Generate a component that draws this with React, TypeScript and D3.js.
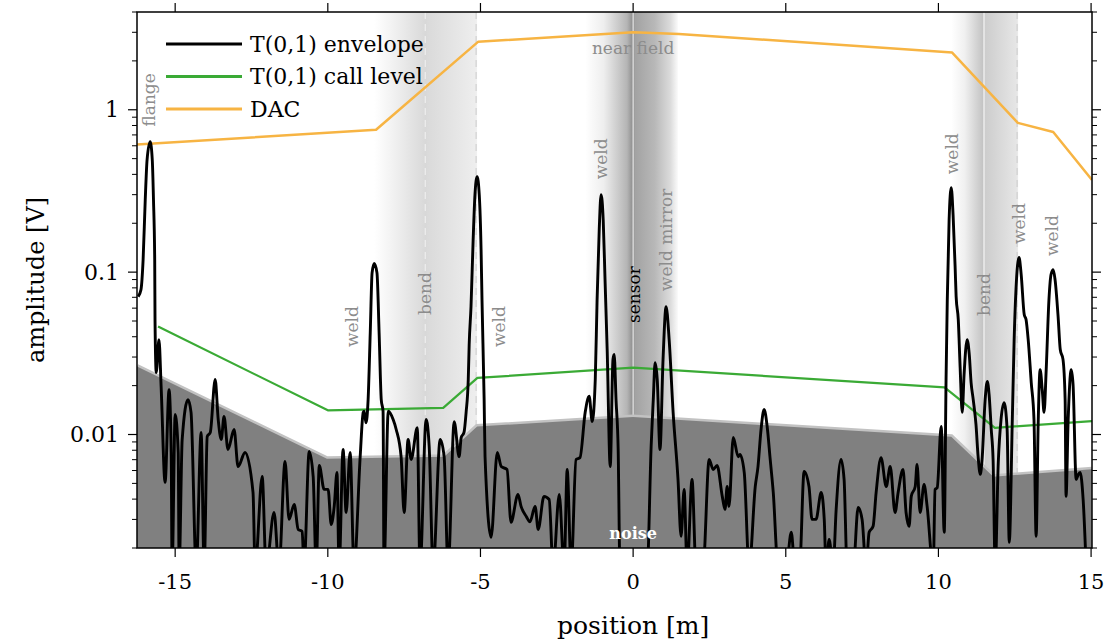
import React from 'react';
import * as d3 from 'd3';

const envPos = [
  -16.21, -16.12, -16.05, -15.98, -15.92, -15.82, -15.75, -15.71, -15.67, -15.66, -15.62, -15.53, -15.46, -15.33, -15.2, -15.13, -15.1, -15.0, -14.9, -14.87, -14.77, -14.58, -14.48, -14.31, -14.15, -14.05, -13.95, -13.85, -13.69, -13.59, -13.49, -13.4, -13.27, -13.07, -12.94, -12.71, -12.45, -12.38, -12.15, -12.02,
  -11.76, -11.6, -11.4, -11.27, -11.1, -10.97, -10.84, -10.78, -10.61, -10.48, -10.38, -10.28, -10.12, -9.99, -9.89, -9.79, -9.7, -9.63, -9.5, -9.4, -9.27, -9.14, -8.94, -8.84, -8.81, -8.75, -8.68, -8.61, -8.55, -8.48, -8.39, -8.32, -8.25, -8.19, -8.16,
  -8.02, -7.86, -7.76, -7.6, -7.5, -7.37, -7.27, -7.07, -6.98, -6.78, -6.68, -6.55, -6.32, -6.19, -6.06, -5.86, -5.7, -5.63, -5.54, -5.47, -5.4, -5.37, -5.31, -5.24, -5.18, -5.11, -5.04, -4.98, -4.95, -4.88, -4.85, -4.65, -4.45, -4.32, -4.13, -4.0, -3.77, -3.67, -3.5, -3.38,
  -3.21, -3.11, -2.92, -2.75, -2.62, -2.42, -2.26, -2.16, -2.03, -1.87, -1.74, -1.57, -1.44, -1.34, -1.24, -1.18, -1.11, -1.05, -0.98, -0.92, -0.85, -0.75, -0.66, -0.62, -0.56, -0.49, -0.43,
  0.46, 0.59, 0.66, 0.72, 0.79, 0.88, 0.98, 1.08, 1.18, 1.31, 1.47, 1.57, 1.67, 1.77, 1.93, 2.06, 2.29, 2.49, 2.62, 2.75, 2.92, 3.01, 3.08, 3.14, 3.28, 3.44, 3.5, 3.64, 3.8, 4.0, 4.09, 4.19, 4.29, 4.39, 4.49, 4.59, 4.75,
  5.01, 5.18, 5.3, 5.45, 5.6, 5.76, 5.86, 5.99, 6.16, 6.26, 6.32, 6.42, 6.55, 6.65, 6.81, 6.91, 7.01, 7.21, 7.37, 7.5, 7.63, 7.73, 7.86, 7.96, 8.12, 8.29, 8.42, 8.58, 8.68, 8.84, 8.94, 9.04, 9.11, 9.24, 9.3, 9.4, 9.53, 9.63, 9.83, 9.89, 9.96, 10.09, 10.19,
  10.25, 10.29, 10.35, 10.42, 10.48, 10.55, 10.58, 10.65, 10.71, 10.78, 10.84, 10.94, 11.01, 11.07, 11.14, 11.23, 11.3, 11.37, 11.43, 11.53, 11.6, 11.66, 11.73, 11.79, 11.86, 11.96, 12.05, 12.15, 12.25, 12.32, 12.42, 12.48, 12.54, 12.64, 12.71, 12.81, 12.87, 12.94, 13.04, 13.13, 13.2, 13.27, 13.33, 13.4, 13.46, 13.53, 13.62, 13.69, 13.76, 13.82, 13.92, 13.99, 14.08, 14.15, 14.18, 14.25, 14.35, 14.41, 14.51, 14.58, 14.64, 14.74, 14.84,
];
const envAmp = [
  0.0707, 0.078, 0.119, 0.279, 0.492, 0.636, 0.492, 0.279, 0.119, 0.051, 0.0241, 0.0384, 0.0198, 0.00507, 0.0189, 0.00775, 0.0015, 0.01328, 0.00775, 0.0015, 0.00932, 0.0164, 0.0137, 0.0015, 0.01029, 0.0015, 0.00973, 0.01029, 0.0218, 0.01236, 0.00932, 0.0129, 0.00809, 0.01074, 0.00635, 0.00775, 0.0044, 0.0015, 0.00552, 0.0015,
  0.00331, 0.0015, 0.00682, 0.003, 0.00371, 0.0026, 0.00253, 0.0015, 0.00786, 0.00552, 0.0015, 0.00644, 0.00459, 0.00459, 0.00279, 0.00361, 0.00583, 0.0015, 0.00809, 0.00331, 0.00775, 0.0015, 0.0073, 0.0137, 0.0139, 0.0118, 0.0164, 0.0425, 0.099, 0.113, 0.099, 0.0425, 0.0164, 0.0139, 0.0015,
  0.0139, 0.01236, 0.01074, 0.0073, 0.00331, 0.00932, 0.00702, 0.011, 0.0015, 0.01236, 0.00844, 0.0015, 0.00932, 0.0073, 0.0015, 0.012, 0.0073, 0.00959, 0.01029, 0.0137, 0.0218, 0.0358, 0.0613, 0.158, 0.3, 0.387, 0.3, 0.1375, 0.0677, 0.0164, 0.0073, 0.00233, 0.00775, 0.00635, 0.00609, 0.00288, 0.00428, 0.00361, 0.00313, 0.0029,
  0.00361, 0.0026, 0.00416, 0.00398, 0.0015, 0.00428, 0.0015, 0.00609, 0.0015, 0.00702, 0.0072, 0.0137, 0.0172, 0.012, 0.0218, 0.0677, 0.183, 0.3, 0.21, 0.0899, 0.0334, 0.00635, 0.029, 0.0311, 0.0164, 0.00809, 0.0015,
  0.0015, 0.00844, 0.0164, 0.0277, 0.0218, 0.00809, 0.029, 0.0613, 0.0384, 0.0137, 0.00529, 0.00236, 0.00459, 0.0015, 0.00529, 0.0015, 0.0015, 0.00702, 0.00609, 0.00644, 0.00416, 0.00345, 0.00478, 0.00361, 0.00959, 0.0073, 0.00753, 0.00583, 0.0015, 0.00478, 0.00635, 0.01074, 0.01425, 0.01121, 0.00702, 0.0044, 0.0015,
  0.0015, 0.0025, 0.0015, 0.0015, 0.00592, 0.00478, 0.003, 0.003, 0.0044, 0.003, 0.0015, 0.00226, 0.0015, 0.00345, 0.00702, 0.00529, 0.0015, 0.0015, 0.00356, 0.003, 0.0015, 0.0025, 0.00272, 0.0044, 0.0072, 0.00478, 0.00635, 0.00331, 0.0044, 0.00609, 0.00331, 0.00272, 0.00416, 0.00478, 0.00654, 0.00331, 0.00492, 0.00361, 0.0015, 0.00459, 0.0047, 0.01121, 0.0025,
  0.0218, 0.0677, 0.21, 0.331, 0.225, 0.1035, 0.0707, 0.051, 0.0262, 0.0137, 0.0234, 0.0384, 0.0311, 0.0209, 0.0164, 0.01153, 0.0073, 0.00568, 0.00702, 0.0164, 0.0212, 0.0176, 0.01074, 0.00702, 0.0015, 0.00672, 0.01236, 0.0157, 0.01074, 0.00217, 0.01236, 0.0384, 0.078, 0.123, 0.097, 0.0548, 0.051, 0.0384, 0.0209, 0.01236, 0.00236, 0.01236, 0.0251, 0.0189, 0.0137, 0.0251, 0.0677, 0.097, 0.1035, 0.0899, 0.0532, 0.0334, 0.029, 0.0164, 0.00416, 0.01236, 0.0251, 0.0203, 0.00529, 0.00568, 0.00583, 0.00398, 0.0015,
];

const callPos = [-15.56, -10.0, -6.22, -5.1, 0, 10.2, 11.85, 15.03];
const callAmp = [0.0462, 0.0141, 0.0146, 0.0223, 0.0258, 0.0195, 0.011, 0.0121];

const dacPos = [-16.25, -8.42, -5.08, 0, 1.5, 10.45, 12.6, 13.76, 15.03];
const dacAmp = [0.61, 0.753, 2.62, 3.0, 2.93, 2.25, 0.83, 0.73, 0.37];

const noisePos = [-16.25, -10.03, -6.19, -5.11, 0, 10.42, 11.8, 15.03];
const noiseAmp = [0.0262, 0.0071, 0.0073, 0.0112, 0.0128, 0.0097, 0.0055, 0.0061];

// shaded zones: start, darkest point, end (m)
const zoneStart = [-8.48, -1.57, 10.42];
const zoneMid = [-6.81, 0, 11.46];
const zoneEnd = [-5.11, 1.47, 12.61];

const xTicks = [-15, -10, -5, 0, 5, 10, 15];
const yMajor = [0.01, 0.1, 1];
const yLabels = ['0.01', '0.1', '1'];

const annText = ['flange', 'weld', 'bend', 'weld', 'weld', 'sensor', 'weld mirror', 'weld', 'bend', 'weld', 'weld'];
const annPos = [-15.85, -9.2, -6.81, -4.39, -1.05, 0.03, 1.08, 10.45, 11.5, 12.64, 13.72];
const annAmp = [1.15, 0.0462, 0.0738, 0.0462, 0.499, 0.0727, 0.158, 0.536, 0.0727, 0.199, 0.168];

const legendNames = ['T(0,1) envelope', 'T(0,1) call level', 'DAC'];
const legendColors = ['#000000', '#3aaa35', '#f7b443'];

const FONT = '"DejaVu Serif", serif';

export default function App() {
  const L = 137, R = 1092, T = 12, B = 548;
  const x = d3.scaleLinear().domain([-16.25, 15.03]).range([L, R]);
  const y = d3.scaleLog().domain([0.002, 4]).range([B, T]);

  const line = d3.line<[number, number]>().x(d => x(d[0])).y(d => y(d[1]));
  const smooth = d3.line<[number, number]>().x(d => x(d[0])).y(d => y(d[1])).curve(d3.curveMonotoneX);
  const area = d3.area<[number, number]>().x(d => x(d[0])).y0(B).y1(d => y(d[1]));

  const env = envPos.map((p, i) => [p, envAmp[i]] as [number, number]);
  const call = callPos.map((p, i) => [p, callAmp[i]] as [number, number]);
  const dac = dacPos.map((p, i) => [p, dacAmp[i]] as [number, number]);
  const noise = noisePos.map((p, i) => [p, noiseAmp[i]] as [number, number]);

  const minor: number[] = [];
  for (const dec of [0.001, 0.01, 0.1, 1]) {
    for (let k = 2; k <= 9; k++) {
      const v = dec * k;
      if (v >= 0.002 && v <= 4) minor.push(v);
    }
  }

  const zoneStops = [
    [['0', '#ffffff'], ['0.15', '#f4f4f4'], ['0.5', '#d8d8d8'], ['0.52', '#dadada'], ['0.99', '#eeeeee'], ['1', '#f2f2f2']],
    [['0', '#ffffff'], ['0.2', '#eeeeee'], ['0.45', '#b5b5b5'], ['0.515', '#8c8c8c'], ['0.535', '#a2a2a2'], ['0.75', '#b8b8b8'], ['0.92', '#dcdcdc'], ['1', '#fbfbfb']],
    [['0', '#ffffff'], ['0.2', '#f0f0f0'], ['0.47', '#c4c4c4'], ['0.49', '#cccccc'], ['0.98', '#e6e6e6'], ['1', '#ececec']],
  ];

  return (
    <svg width={1109} height={643} style={{ position: 'absolute', left: 0, top: 0, background: '#fff' }} fontFamily={FONT}>
      <defs>
        <clipPath id="plotclip"><rect x={L} y={T} width={R - L} height={B - T} /></clipPath>
        {zoneStops.map((stops, i) => (
          <linearGradient key={i} id={`zone${i}`} x1="0" x2="1" y1="0" y2="0">
            {stops.map(([o, c], j) => <stop key={j} offset={o} stopColor={c} />)}
          </linearGradient>
        ))}
      </defs>
      <rect x={0} y={0} width={1109} height={643} fill="#fff" />
      <g clipPath="url(#plotclip)">
        {zoneStart.map((s, i) => (
          <rect key={i} x={x(s)} y={T} width={x(zoneEnd[i]) - x(s)} height={B - T} fill={`url(#zone${i})`} />
        ))}
        <line x1={x(zoneMid[0])} x2={x(zoneMid[0])} y1={T} y2={B} stroke="#f2f2f2" strokeWidth={1} strokeDasharray="7 5" />
        <line x1={x(zoneEnd[0]) - 1} x2={x(zoneEnd[0]) - 1} y1={T} y2={B} stroke="#c4c4c4" strokeWidth={0.8} strokeDasharray="7 5" />
        <line x1={x(zoneMid[1])} x2={x(zoneMid[1])} y1={T} y2={B} stroke="#e8e8e8" strokeWidth={1.2} />
        <line x1={x(zoneMid[2]) + 1} x2={x(zoneMid[2]) + 1} y1={T} y2={B} stroke="#f4f4f4" strokeWidth={1.2} />
        <line x1={x(zoneEnd[2]) - 1} x2={x(zoneEnd[2]) - 1} y1={T} y2={B} stroke="#c4c4c4" strokeWidth={0.8} strokeDasharray="7 5" />

        <path d={line(noise) || ''} fill="none" stroke="#c2c2c2" strokeWidth={5} />
        <path d={area(noise) || ''} fill="#808080" />

        {annText.map((t, i) => (
          <text key={i} transform={`translate(${x(annPos[i])},${y(annAmp[i])}) rotate(-90)`} textAnchor="middle" dominantBaseline="central"
            fontSize={17} fill={t === 'sensor' ? '#000' : '#8c8c8c'}>{t}</text>
        ))}
        <text x={x(0)} y={y(2.41)} textAnchor="middle" dominantBaseline="central" fontSize={17} fill="#8c8c8c">near field</text>

        <path d={line(dac) || ''} fill="none" stroke={legendColors[2]} strokeWidth={2.5} strokeLinejoin="round" />
        <path d={line(call) || ''} fill="none" stroke={legendColors[1]} strokeWidth={2.2} strokeLinejoin="round" />
        <path d={smooth(env) || ''} fill="none" stroke={legendColors[0]} strokeWidth={2.9} strokeLinejoin="round" />

        <text x={x(0)} y={y(0.00246)} textAnchor="middle" dominantBaseline="central" fontSize={16} fontWeight="bold" fill="#fff">noise</text>
      </g>

      {/* frame */}
      <rect x={L} y={T} width={R - L} height={B - T} fill="none" stroke="#000" strokeWidth={1.5} />
      {xTicks.map(t => (
        <g key={t}>
          <line x1={x(t)} x2={x(t)} y1={B} y2={B + 9} stroke="#000" strokeWidth={1.2} />
          <line x1={x(t)} x2={x(t)} y1={T} y2={T - 9} stroke="#000" strokeWidth={1.2} />
          <text x={x(t)} y={589} textAnchor="middle" fontSize={21} fill="#000">{t}</text>
        </g>
      ))}
      {yMajor.map((t, i) => (
        <g key={t}>
          <line x1={L} x2={L - 9} y1={y(t)} y2={y(t)} stroke="#000" strokeWidth={1.2} />
          <line x1={R} x2={R + 9} y1={y(t)} y2={y(t)} stroke="#000" strokeWidth={1.2} />
          <text x={L - 18} y={y(t)} textAnchor="end" dominantBaseline="central" fontSize={22} fill="#000">{yLabels[i]}</text>
        </g>
      ))}
      {minor.map(t => (
        <g key={t}>
          <line x1={L} x2={L - 5} y1={y(t)} y2={y(t)} stroke="#000" strokeWidth={1} />
          <line x1={R} x2={R + 5} y1={y(t)} y2={y(t)} stroke="#000" strokeWidth={1} />
        </g>
      ))}
      <text x={x(0)} y={634} textAnchor="middle" fontSize={25} fill="#000">position [m]</text>
      <text transform={`translate(36,${(T + B) / 2}) rotate(-90)`} textAnchor="middle" dominantBaseline="central" fontSize={24} fill="#000">amplitude [V]</text>

      {legendNames.map((n, i) => (
        <g key={n}>
          <line x1={166} x2={242} y1={44 + i * 32.5} y2={44 + i * 32.5} stroke={legendColors[i]} strokeWidth={3} />
          <text x={250} y={44 + i * 32.5} dominantBaseline="central" fontSize={22} fill="#000">{n}</text>
        </g>
      ))}
    </svg>
  );
}
